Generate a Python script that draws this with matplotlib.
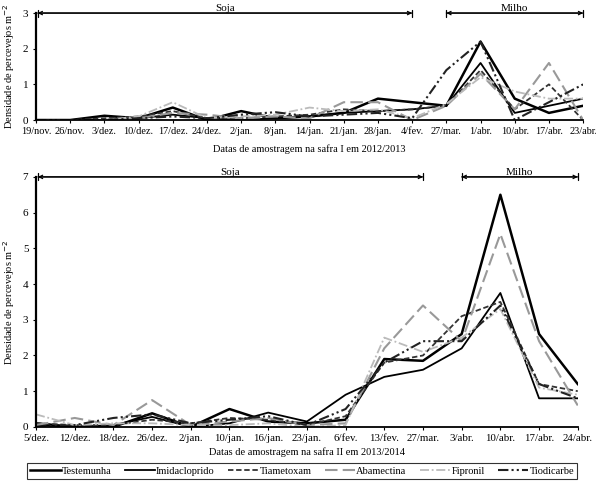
import matplotlib.pyplot as plt
import numpy as np

plt.rcParams['font.family'] = ['Liberation Serif', 'DejaVu Serif']

# safra I 2012/2013
dates1 = ['19/nov.', '26/nov.', '3/dez.', '10/dez.', '17/dez.', '24/dez.', '2/jan.', '8/jan.',
          '14/jan.', '21/jan.', '28/jan.', '4/fev.', '27/mar.', '1/abr.', '10/abr.', '17/abr.', '23/abr.']
testemunha1    = [0, 0, 0.12, 0.05, 0.35, 0, 0.25, 0.05, 0.1, 0.2, 0.6, 0.5, 0.4, 2.2, 0.6, 0.2, 0.4]
imidacloprido1 = [0, 0, 0, 0.05, 0.15, 0.05, 0, 0.05, 0.1, 0.2, 0.25, 0.3, 0.4, 1.6, 0.2, 0.4, 0.6]
tiametoxam1    = [0, 0, 0.05, 0.1, 0.25, 0.05, 0.05, 0.1, 0.15, 0.3, 0.25, 0.3, 0.4, 1.4, 0.3, 1.0, 0]
abamectina1    = [0, 0, 0, 0.05, 0.2, 0.15, 0.05, 0.1, 0.05, 0.5, 0.5, 0, 0.4, 1.3, 0.3, 1.6, 0]
fipronil1      = [0, 0, 0, 0.1, 0.5, 0.05, 0.1, 0.15, 0.35, 0.25, 0.3, 0.05, 0.45, 1.2, 0.8, 0.6, 0.6]
tiodicarbe1    = [0, 0, 0, 0.05, 0.1, 0.05, 0.15, 0.22, 0.1, 0.15, 0.2, 0.05, 1.4, 2.2, 0, 0.5, 1.0]

# safra II 2013/2014
dates2 = ['5/dez.', '12/dez.', '18/dez.', '26/dez.', '2/jan.', '10/jan.', '16/jan.', '23/jan.',
          '6/fev.', '13/fev.', '27/mar.', '3/abr.', '10/abr.', '17/abr.', '24/abr.']
testemunha2    = [0.1, 0, 0, 0.38, 0, 0.5, 0.15, 0.1, 0.2, 1.9, 1.85, 2.6, 6.5, 2.6, 1.2]
imidacloprido2 = [0.05, 0, 0.05, 0.28, 0, 0.1, 0.4, 0.15, 0.9, 1.4, 1.6, 2.2, 3.75, 0.8, 0.8]
tiametoxam2    = [0.1, 0.05, 0.05, 0.2, 0.1, 0.25, 0.2, 0.05, 0.3, 1.8, 2.0, 3.1, 3.5, 1.2, 1.0]
abamectina2    = [0.05, 0.25, 0.05, 0.75, 0.05, 0.15, 0.25, 0.05, 0.1, 2.2, 3.4, 2.4, 5.4, 2.4, 0.6]
fipronil2      = [0.35, 0.05, 0.1, 0.1, 0.05, 0.05, 0.1, 0, 0.05, 2.5, 2.1, 2.5, 3.3, 1.1, 0.9]
tiodicarbe2    = [0, 0.05, 0.25, 0.35, 0.1, 0.2, 0.3, 0.05, 0.5, 1.8, 2.4, 2.4, 3.4, 1.2, 0.8]

names = ['Testemunha', 'Imidacloprido', 'Tiametoxam', 'Abamectina', 'Fipronil', 'Tiodicarbe']
styles = [
    dict(color='black', lw=1.8, ls='-'),
    dict(color='black', lw=1.3, ls='-'),
    dict(color='#333333', lw=1.3, ls=(0, (3, 1.5))),
    dict(color='#999999', lw=1.5, ls=(0, (6, 2.5))),
    dict(color='#bbbbbb', lw=1.3, ls=(0, (5, 1.5, 1, 1.5))),
    dict(color='#222222', lw=1.5, ls=(0, (5, 1.5, 1, 1.5, 1, 1.5))),
]


def period(ax, x0, x1, y, label):
    ax.annotate('', xy=(x0, y), xytext=(x1, y),
                arrowprops=dict(arrowstyle='<->', lw=0.9, color='black',
                                shrinkA=0, shrinkB=0, mutation_scale=6),
                annotation_clip=False)
    ax.annotate('', xy=(x0, y), xytext=(x1, y),
                arrowprops=dict(arrowstyle='|-|', lw=0.9, color='black',
                                shrinkA=0, shrinkB=0, mutation_scale=2.5),
                annotation_clip=False)
    ax.text((x0 + x1) / 2, y, label, ha='center', va='bottom', fontsize=8)


def setup(ax, dates, ymax, xlabel, xpad, tfs):
    ax.set_xlim(0, len(dates) - 1)
    ax.set_ylim(0, ymax)
    ax.set_xticks(range(len(dates)))
    ax.set_xticklabels(dates, fontsize=tfs)
    ax.set_yticks(range(ymax + 1))
    ax.tick_params(axis='y', labelsize=8, length=2, direction='out')
    ax.tick_params(axis='x', length=2, direction='out', pad=3)
    for s in ['top', 'right']:
        ax.spines[s].set_visible(False)
    ax.spines['left'].set_linewidth(1.6)
    ax.spines['bottom'].set_linewidth(1.3)
    ax.set_ylabel('Densidade de percevejos m$^{-2}$', fontsize=7.5, labelpad=4)
    ax.set_xlabel(xlabel, fontsize=7.5, labelpad=xpad)


fig = plt.figure(figsize=(5.96, 4.84), dpi=100)
ax1 = fig.add_axes([0.0604, 0.752, 0.918, 0.221])
ax2 = fig.add_axes([0.0604, 0.118, 0.909, 0.5165])

series1 = [testemunha1, imidacloprido1, tiametoxam1, abamectina1, fipronil1, tiodicarbe1]
series2 = [testemunha2, imidacloprido2, tiametoxam2, abamectina2, fipronil2, tiodicarbe2]

for vals, nm, st in zip(series1, names, styles):
    ax1.plot(range(len(dates1)), vals, label=nm, **st)
for vals, nm, st in zip(series2, names, styles):
    ax2.plot(range(len(dates2)), vals, label=nm, **st)

setup(ax1, dates1, 3, 'Datas de amostragem na safra I em 2012/2013', 6, 7.4)
setup(ax2, dates2, 7, 'Datas de amostragem na safra II em 2013/2014', 3, 7.8)

period(ax1, 0.05, 11, 3, 'Soja')
period(ax1, 12, 16, 3, 'Milho')
period(ax2, 0.05, 10, 7, 'Soja')
period(ax2, 11, 14, 7, 'Milho')

handles, labels = ax2.get_legend_handles_labels()
leg = fig.legend(handles, labels, loc='center', bbox_to_anchor=(0.507, 0.027), ncol=6,
                 fontsize=7.5, frameon=True, fancybox=False, edgecolor='black',
                 handlelength=2.9, handletextpad=0.1, columnspacing=1.3,
                 borderpad=0.3)
leg.get_frame().set_linewidth(0.8)

fig.savefig('out.png', dpi=100)
